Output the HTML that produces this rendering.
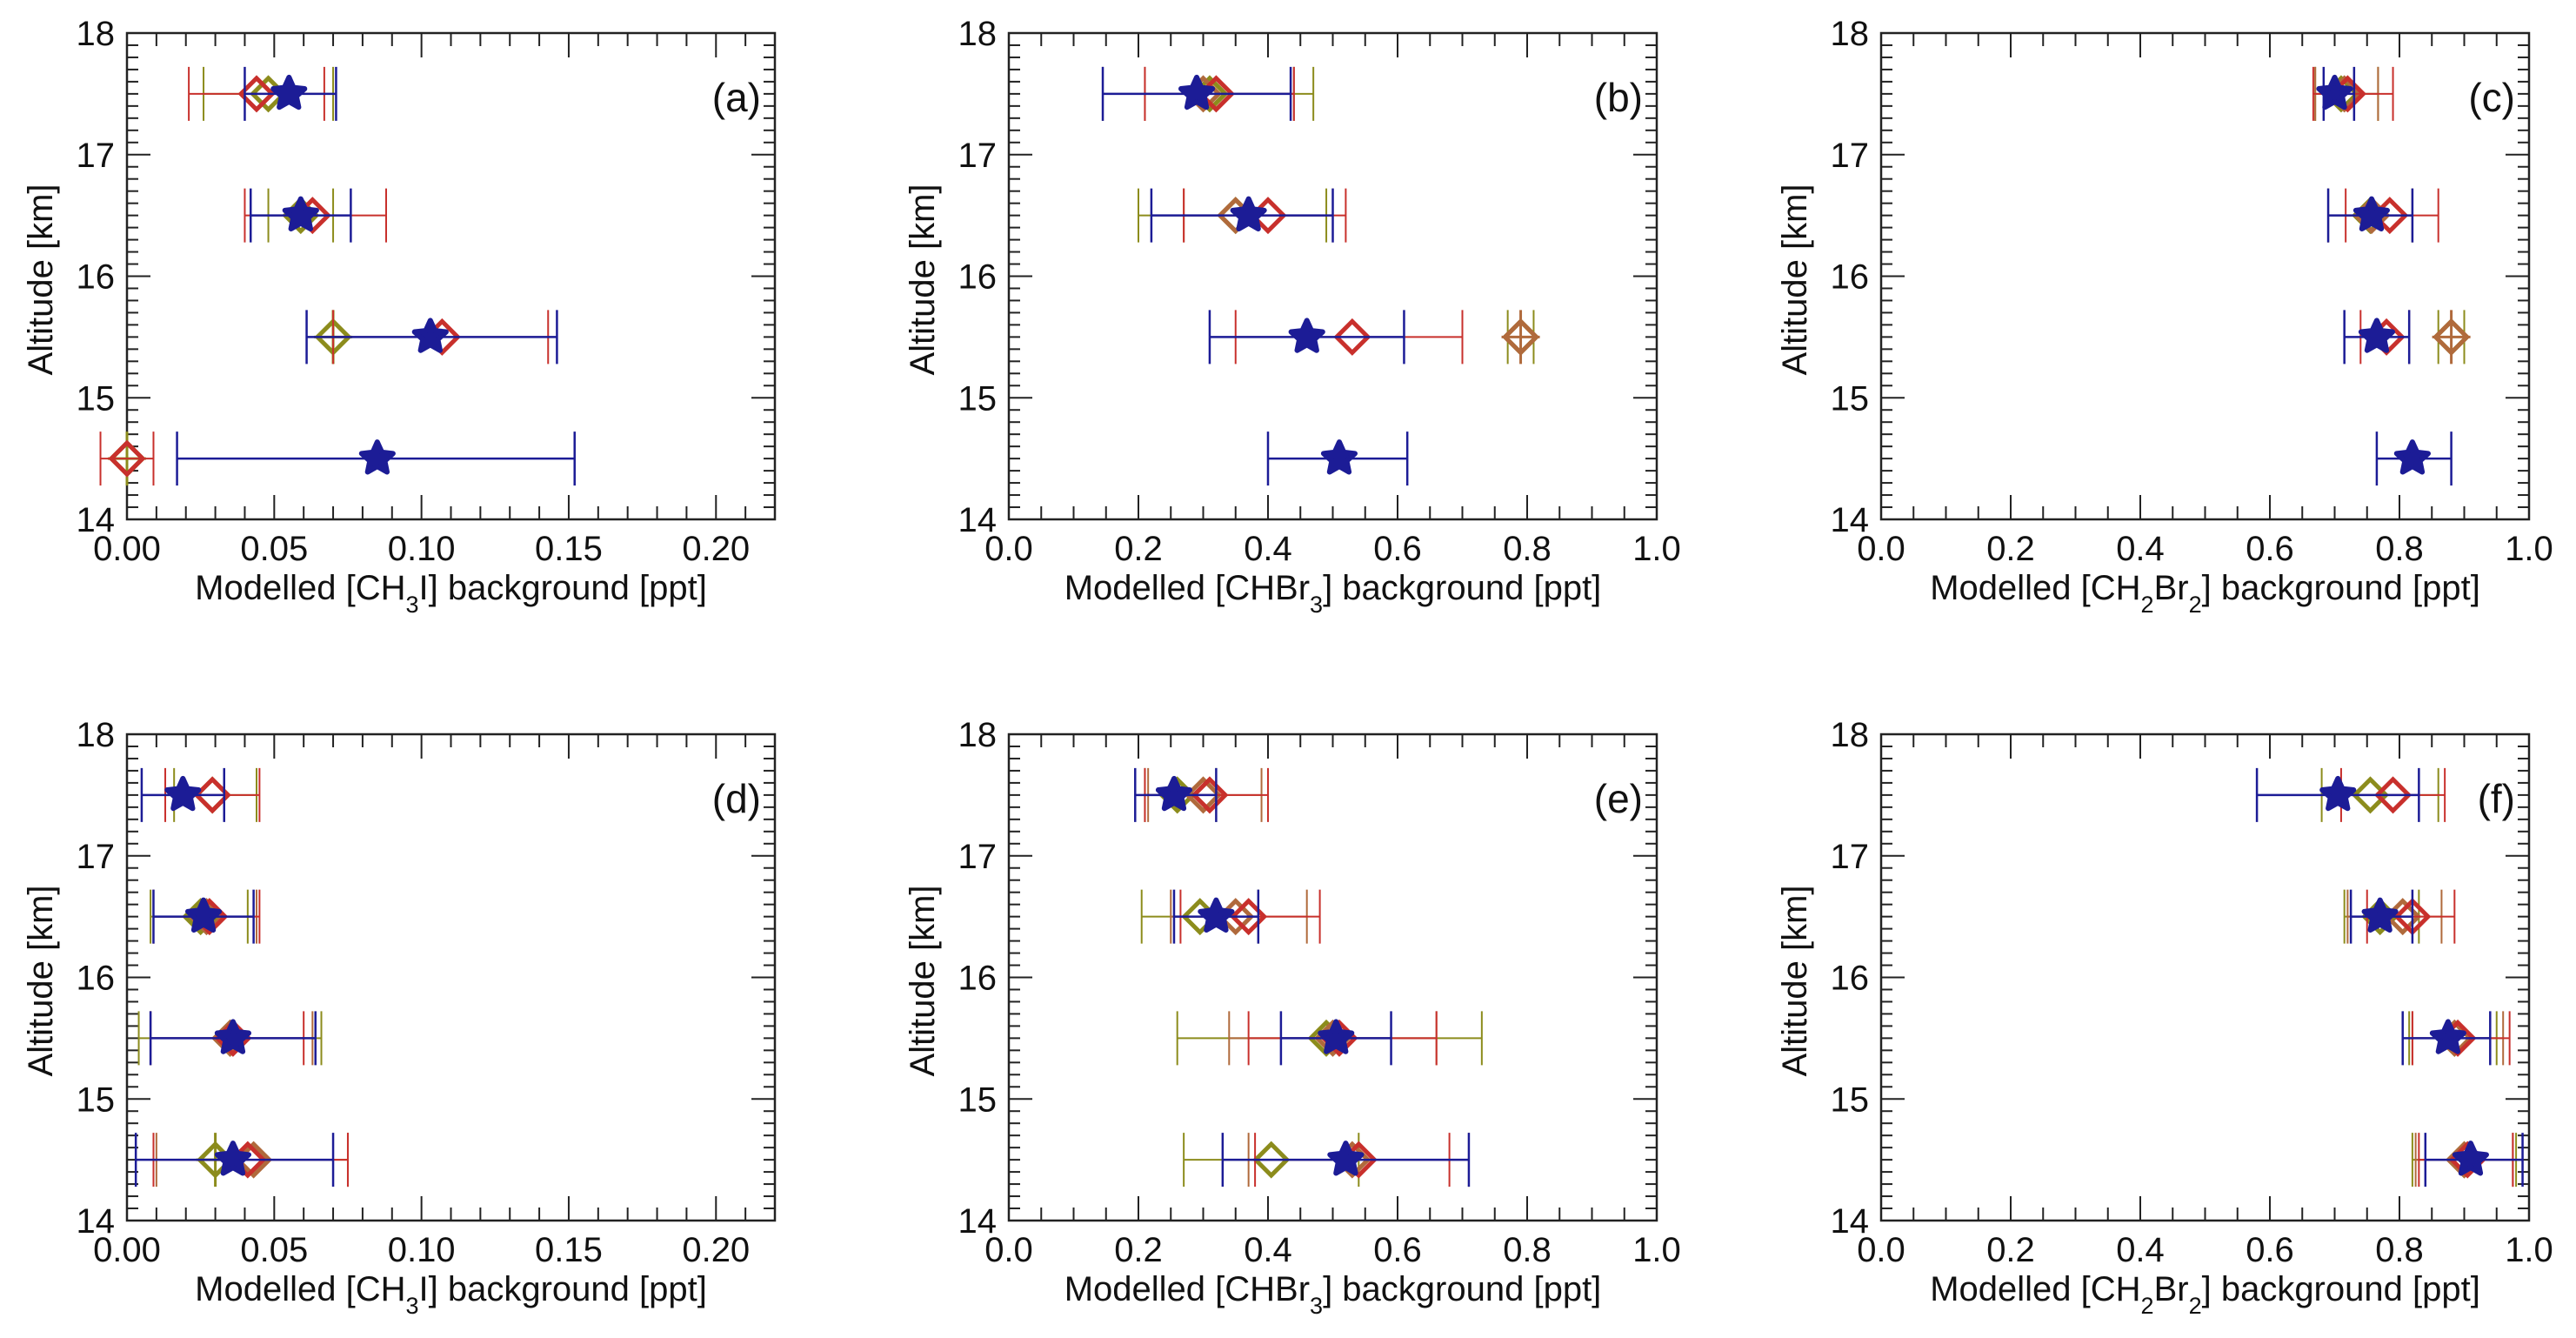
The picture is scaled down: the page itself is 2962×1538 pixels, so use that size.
<!DOCTYPE html>
<html><head><meta charset="utf-8"><style>
html,body{margin:0;padding:0;background:#fff;}
svg{display:block;font-family:"Liberation Sans",Arial,sans-serif;}
</style></head><body>
<svg id="fig" width="2962" height="1538" viewBox="0 0 2962 1538" xmlns="http://www.w3.org/2000/svg"></svg>
<script>
// Altitude levels (km)
const altitudes = [17.5, 16.5, 15.5, 14.5];
// Panel meta
const panelLabels = ['(a)','(b)','(c)','(d)','(e)','(f)'];
const panelSpecies = [['CH','3','I'],['CHBr','3',''],['CH','2','Br','2'],['CH','3','I'],['CHBr','3',''],['CH','2','Br','2']];
const panelXMax = [0.22, 1.0, 1.0, 0.22, 1.0, 1.0];
const smallTickLabels = ['0.00','0.05','0.10','0.15','0.20'];
const smallTickValues = [0, 0.05, 0.10, 0.15, 0.20];
const bigTickLabels = ['0.0','0.2','0.4','0.6','0.8','1.0'];
const bigTickValues = [0, 0.2, 0.4, 0.6, 0.8, 1.0];
const yTickLabels = ['14','15','16','17','18'];
const yTickValues = [14, 15, 16, 17, 18];

// Series values per panel: [value, low, high] per altitude (null = not shown)
const redA = [[0.044,0.021,0.067],[0.063,0.040,0.088],[0.107,0.070,0.143],[0.0,-0.009,0.009]];
const oliveA = [[0.048,0.026,0.070],[0.059,0.048,0.070],[0.070,0.070,0.070],[0.0,0.0,0.0]];
const blueA = [[0.055,0.040,0.071],[0.059,0.042,0.076],[0.103,0.061,0.146],[0.085,0.017,0.152]];
const brownA = [null,null,null,null];

const redB = [[0.32,0.21,0.44],[0.40,0.27,0.52],[0.53,0.35,0.70],null];
const oliveB = [[0.31,0.145,0.47],[0.35,0.20,0.49],[0.79,0.77,0.81],null];
const blueB = [[0.29,0.145,0.435],[0.37,0.22,0.50],[0.46,0.31,0.61],[0.51,0.40,0.615]];
const brownB = [[0.30,0.21,0.44],[0.35,0.27,0.50],[0.79,0.79,0.79],null];

const redC = [[0.72,0.667,0.79],[0.785,0.717,0.86],[0.78,0.74,0.815],null];
const oliveC = [[0.71,0.67,0.767],[0.755,0.69,0.82],[0.88,0.86,0.90],null];
const blueC = [[0.70,0.683,0.73],[0.757,0.69,0.82],[0.765,0.715,0.815],[0.82,0.765,0.88]];
const brownC = [[0.715,0.67,0.767],[0.757,0.69,0.82],[0.88,0.88,0.88],null];

const redD = [[0.029,0.013,0.045],[0.028,0.009,0.045],[0.036,0.008,0.060],[0.041,0.009,0.075]];
const oliveD = [[0.029,0.016,0.044],[0.025,0.008,0.041],[0.035,0.004,0.066],[0.030,0.030,0.030]];
const blueD = [[0.019,0.005,0.033],[0.026,0.009,0.043],[0.036,0.008,0.064],[0.036,0.003,0.070]];
const brownD = [null,[0.027,0.009,0.044],[0.035,0.008,0.063],[0.043,0.010,0.075]];

const redE = [[0.31,0.21,0.40],[0.37,0.265,0.48],[0.51,0.37,0.66],[0.54,0.38,0.68]];
const oliveE = [[0.26,0.21,0.32],[0.295,0.205,0.385],[0.49,0.26,0.73],[0.405,0.27,0.54]];
const blueE = [[0.255,0.195,0.32],[0.32,0.255,0.385],[0.505,0.42,0.59],[0.52,0.33,0.71]];
const brownE = [[0.30,0.215,0.39],[0.35,0.25,0.46],[0.50,0.34,0.66],[0.53,0.37,0.71]];

const redF = [[0.79,0.71,0.87],[0.82,0.75,0.885],[0.89,0.82,0.97],[0.905,0.83,0.975]];
const oliveF = [[0.755,0.68,0.86],[0.77,0.715,0.83],[0.885,0.815,0.95],[0.90,0.82,0.98]];
const blueF = [[0.705,0.58,0.83],[0.77,0.725,0.82],[0.875,0.805,0.94],[0.91,0.84,0.99]];
const brownF = [null,[0.805,0.72,0.865],[0.885,0.82,0.96],[0.90,0.825,0.975]];

const panelSeries = [
  {red:redA,olive:oliveA,blue:blueA,brown:brownA},
  {red:redB,olive:oliveB,blue:blueB,brown:brownB},
  {red:redC,olive:oliveC,blue:blueC,brown:brownC},
  {red:redD,olive:oliveD,blue:blueD,brown:brownD},
  {red:redE,olive:oliveE,blue:blueE,brown:brownE},
  {red:redF,olive:oliveF,blue:blueF,brown:brownF}
];

const NS='http://www.w3.org/2000/svg';
const svg=document.getElementById('fig');
function mk(tag,attrs,parent){const e=document.createElementNS(NS,tag);for(const k in attrs)e.setAttribute(k,attrs[k]);(parent||svg).appendChild(e);return e;}

const colLeft=[146,1160,2163], rowTop=[38,844], PW=745, PH=559;
const colors={red:'#c8302c',brown:'#b06a3c',olive:'#8c8c1c',blue:'#1c1c96'};
const order=['olive','brown','red','blue'];

function starPath(cx,cy,R,r){let d='';for(let i=0;i<10;i++){const a=-Math.PI/2+i*Math.PI/5;const rr=i%2?r:R;d+=(i?'L':'M')+(cx+rr*Math.cos(a)).toFixed(1)+' '+(cy+rr*Math.sin(a)).toFixed(1);}return d+'Z';}

for(let p=0;p<6;p++){
  const x0=colLeft[p%3], y0=rowTop[Math.floor(p/3)];
  const xmax=panelXMax[p];
  const X=v=>x0+v/xmax*PW;
  const Y=a=>y0+(18-a)/4*PH;
  const g=mk('g',{});
  
  
  const fr=mk('rect',{x:x0,y:y0,width:PW,height:PH,fill:'none',stroke:'#222','stroke-width':2.5},g);
  
  
  const small = xmax<0.5;
  const minorStep = small?0.01:0.05, majorStep = small?0.05:0.2;
  const nMinor=Math.floor(xmax/minorStep+1e-6);
  for(let i=0;i<=nMinor;i++){
    const v=i*minorStep; const isMaj=Math.abs(v/majorStep-Math.round(v/majorStep))<1e-6;
    const L=isMaj?28:15; const x=X(v);
    mk('line',{x1:x,x2:x,y1:y0+PH,y2:y0+PH-L,stroke:'#222','stroke-width':2},g);
    mk('line',{x1:x,x2:x,y1:y0,y2:y0+L,stroke:'#222','stroke-width':2},g);
  }
  for(let i=0;i<=40;i++){
    const a=14+i*0.1; const isMaj=i%10===0; const L=isMaj?27:13; const y=Y(a);
    mk('line',{x1:x0,x2:x0+L,y1:y,y2:y,stroke:'#222','stroke-width':2},g);
    mk('line',{x1:x0+PW,x2:x0+PW-L,y1:y,y2:y,stroke:'#222','stroke-width':2},g);
  }
  const tl = small?smallTickLabels:bigTickLabels, tv = small?smallTickValues:bigTickValues;
  tl.forEach((s,i)=>{const t=mk('text',{x:X(tv[i]),y:y0+PH+47,'font-size':40,'text-anchor':'middle',fill:'#111'},g);t.textContent=s;
    
    });
  yTickLabels.forEach((s,i)=>{const t=mk('text',{x:x0-14,y:Y(yTickValues[i])+14,'font-size':40,'text-anchor':'end',fill:'#111'},g);t.textContent=s;
    
    });
  const xt=mk('text',{x:x0+PW/2,y:y0+PH+92,'font-size':40,'text-anchor':'middle',fill:'#111'},g);
  
  
  const sp=panelSpecies[p];
  mk('tspan',{},xt).textContent='Modelled [';
  for(let k=0;k<sp.length;k++){
    if(!sp[k])continue;
    const sub=k%2===1;
    const ts=mk('tspan',sub?{'font-size':27,dy:15}:{dy:(k>0?-15:0)},xt);ts.textContent=sp[k];
  }
  const last=mk('tspan',{dy:(sp.length%2===0||sp[sp.length-1]==='')?-15:0},xt);last.textContent='] background [ppt]';
  const yt=mk('text',{x:0,y:0,'font-size':40,'text-anchor':'middle',fill:'#111',transform:`translate(${x0-86},${y0+PH/2+4}) rotate(-90)`},g);
  yt.textContent='Altitude [km]';
  
  
  const pl=mk('text',{x:x0+PW-16,y:y0+90,'font-size':46,'text-anchor':'end',fill:'#111'},g);
  pl.textContent=panelLabels[p];
  
  
  const S=panelSeries[p];
  order.forEach(name=>{
    const arr=S[name]; const c=colors[name];
    const sg=mk('g',{},g);
    
    
    arr.forEach((d,i)=>{
      if(!d)return;
      const y=Y(altitudes[i]); const xv=X(d[0]), xl=X(d[1]), xh=X(d[2]);
      const lw=name==='blue'?2.5:2;
      if(xh-xl>1){
        mk('line',{x1:xl,x2:xh,y1:y,y2:y,stroke:c,'stroke-width':lw},sg);
        mk('line',{x1:xl,x2:xl,y1:y-31,y2:y+31,stroke:c,'stroke-width':lw},sg);
        mk('line',{x1:xh,x2:xh,y1:y-31,y2:y+31,stroke:c,'stroke-width':lw},sg);
      } else {
        mk('line',{x1:xv-22,x2:xv+22,y1:y,y2:y,stroke:c,'stroke-width':3},sg);
        mk('line',{x1:xv,x2:xv,y1:y-31,y2:y+31,stroke:c,'stroke-width':3},sg);
      }
      if(name==='blue'){
        const st=mk('path',{d:starPath(xv,y,19,9),fill:c,stroke:c,'stroke-width':6,'stroke-linejoin':'round'},sg);
        
        
      } else {
        const h=18;
        const dm=mk('path',{d:`M${xv} ${y-h}L${xv+h} ${y}L${xv} ${y+h}L${xv-h} ${y}Z`,fill:'none',stroke:c,'stroke-width':5},sg);
        
        
      }
    });
  });
}
</script>
</body></html>
